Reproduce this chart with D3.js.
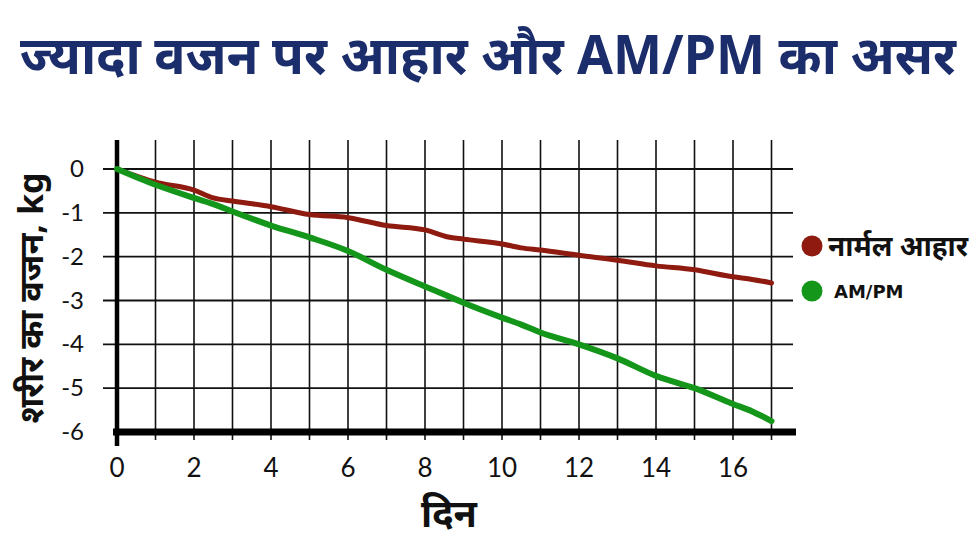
<!DOCTYPE html>
<html><head><meta charset="utf-8">
<script src="https://cdn.jsdelivr.net/npm/d3@7"></script>
<style>
body{margin:0;background:#fff;}
svg{display:block;}
</style></head>
<body>
<svg id="c" width="980" height="550"></svg>
<script>
const days = [0,1,2,2.5,3,4,5,6,7,8,8.6,9,10,10.5,11,12,13,14,15,16,16.5,17];
const normalDiet = [0,-0.30,-0.48,-0.66,-0.73,-0.86,-1.04,-1.11,-1.29,-1.39,-1.55,-1.6,-1.71,-1.8,-1.85,-1.97,-2.08,-2.21,-2.3,-2.46,-2.52,-2.6];
const amPm = [0,-0.36,-0.66,-0.80,-0.97,-1.29,-1.56,-1.87,-2.3,-2.68,-2.9,-3.05,-3.39,-3.55,-3.73,-4.0,-4.32,-4.72,-5.0,-5.36,-5.53,-5.75];
const xTicks = [0,2,4,6,8,10,12,14,16];
const yTicks = [0,-1,-2,-3,-4,-5,-6];
const gridDays = d3.range(1,18);
const seriesNames = ["नार्मल आहार","AM/PM"];
const seriesColors = ["#8e1a10","#14961a"];

const svg = d3.select("#c");
const x = d3.scaleLinear().domain([0,16]).range([117,733]);
const y = d3.scaleLinear().domain([0,-6]).range([169,432]);
const devFont = "'Noto Sans','Noto Sans Devanagari','Lohit Devanagari',sans-serif";

// title
svg.append("text").attr("x",488).attr("y",74).attr("text-anchor","middle")
  .attr("font-family",devFont).attr("font-weight","bold").attr("font-size",53)
  .attr("textLength",936).attr("lengthAdjust","spacingAndGlyphs")
  .attr("fill","#1b2d6b").text("ज्यादा वजन पर आहार और AM/PM का असर");

// grid
const g = svg.append("g");
g.selectAll(".hg").data(yTicks.slice(0,-1)).join("line")
  .attr("x1",103).attr("x2",793).attr("y1",d=>y(d)).attr("y2",d=>y(d))
  .attr("stroke","#111").attr("stroke-width",1.8);
g.selectAll(".vg").data(gridDays).join("line")
  .attr("x1",d=>x(d)).attr("x2",d=>x(d)).attr("y1",140).attr("y2",440)
  .attr("stroke","#111").attr("stroke-width",1.6);
// axes
g.append("line").attr("x1",x(0)).attr("x2",x(0)).attr("y1",140).attr("y2",446)
  .attr("stroke","#000").attr("stroke-width",4.5);
g.append("line").attr("x1",113).attr("x2",796).attr("y1",y(-6)).attr("y2",y(-6))
  .attr("stroke","#000").attr("stroke-width",7);

// tick labels
const tickFont = "Lato,'Open Sans',sans-serif";
svg.selectAll(".yt").data(yTicks).join("text")
  .attr("x",84).attr("y",d=>y(d)+8).attr("text-anchor","end")
  .attr("font-family",tickFont).attr("font-size",24).attr("fill","#111")
  .text(d=>d===0?"0":"-"+Math.abs(d));
svg.selectAll(".xt").data(xTicks).join("text")
  .attr("x",d=>x(d)).attr("y",477).attr("text-anchor","middle")
  .attr("font-family",tickFont).attr("font-size",26).attr("fill","#111")
  .text(d=>d);

// axis titles
svg.append("text").attr("transform","translate(43,298) rotate(-90)")
  .attr("text-anchor","middle").attr("font-family",devFont).attr("font-weight","bold")
  .attr("font-size",34).attr("fill","#111").text("शरीर का वजन, kg");
svg.append("text").attr("x",449).attr("y",527).attr("text-anchor","middle")
  .attr("font-family",devFont).attr("font-weight","bold")
  .attr("font-size",38).attr("fill","#111").text("दिन");

// lines
const line = d3.line().x(d=>x(d[0])).y(d=>y(d[1])).curve(d3.curveMonotoneX);
const data = [normalDiet, amPm];
data.forEach((vals,i)=>{
  svg.append("path").datum(days.map((d,j)=>[d,vals[j]]))
    .attr("d",line).attr("fill","none").attr("stroke",seriesColors[i])
    .attr("stroke-width",i===0?5:6).attr("stroke-linecap","round").attr("stroke-linejoin","round");
});

// legend
const ly = [246,291];
seriesNames.forEach((n,i)=>{
  svg.append("circle").attr("cx",812).attr("cy",ly[i]).attr("r",10.5).attr("fill",seriesColors[i]);
  svg.append("text").attr("x",i===0?828:834).attr("y",ly[i]+(i===0?10:7))
    .attr("font-family",i===0?devFont:"'DejaVu Sans',sans-serif").attr("font-weight","bold")
    .attr("font-size",i===0?28:18).attr("fill","#111").text(n);
});
</script>
</body></html>
